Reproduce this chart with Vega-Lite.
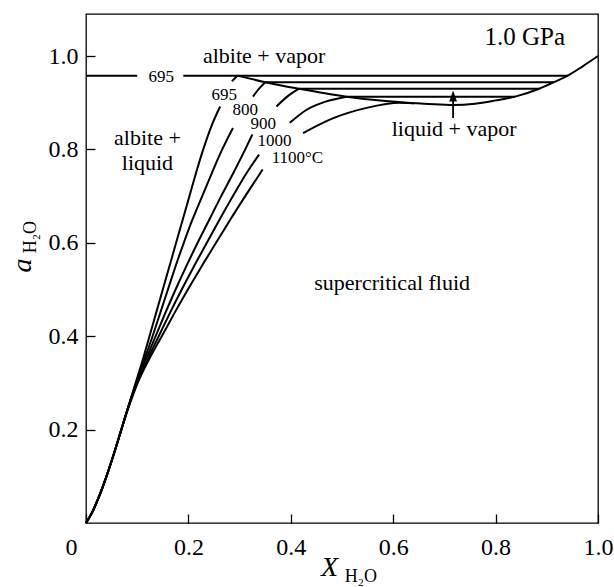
{
  "$schema": "https://vega.github.io/schema/vega-lite/v6.json",
  "width": 512,
  "height": 509,
  "autosize": {"type": "none"},
  "padding": {"left": 86, "top": 14, "right": 16, "bottom": 64},
  "background": "white",
  "config": {
    "view": {"stroke": "black", "strokeWidth": 1.3},
    "font": "Liberation Serif"
  },
  "datasets": {
    "curves": [
      {"seg": "695a", "x": 0, "y": 0}, {"seg": "695a", "x": 0.013, "y": 0.025}, {"seg": "695a", "x": 0.023, "y": 0.05}, {"seg": "695a", "x": 0.04, "y": 0.1}, {"seg": "695a", "x": 0.055, "y": 0.15}, {"seg": "695a", "x": 0.069, "y": 0.2}, {"seg": "695a", "x": 0.083, "y": 0.25}, {"seg": "695a", "x": 0.097, "y": 0.3}, {"seg": "695a", "x": 0.111, "y": 0.35}, {"seg": "695a", "x": 0.124, "y": 0.4}, {"seg": "695a", "x": 0.137, "y": 0.45}, {"seg": "695a", "x": 0.15, "y": 0.5}, {"seg": "695a", "x": 0.163, "y": 0.55}, {"seg": "695a", "x": 0.176, "y": 0.6}, {"seg": "695a", "x": 0.189, "y": 0.65}, {"seg": "695a", "x": 0.202, "y": 0.7}, {"seg": "695a", "x": 0.215, "y": 0.75}, {"seg": "695a", "x": 0.229, "y": 0.8}, {"seg": "695a", "x": 0.245, "y": 0.85}, {"seg": "695a", "x": 0.262, "y": 0.892},
      {"seg": "695b", "x": 0.285, "y": 0.946}, {"seg": "695b", "x": 0.296, "y": 0.958},
      {"seg": "800a", "x": 0, "y": 0}, {"seg": "800a", "x": 0.013, "y": 0.025}, {"seg": "800a", "x": 0.023, "y": 0.05}, {"seg": "800a", "x": 0.04, "y": 0.1}, {"seg": "800a", "x": 0.055, "y": 0.15}, {"seg": "800a", "x": 0.069, "y": 0.2}, {"seg": "800a", "x": 0.083, "y": 0.25}, {"seg": "800a", "x": 0.098, "y": 0.3}, {"seg": "800a", "x": 0.114, "y": 0.35}, {"seg": "800a", "x": 0.13, "y": 0.4}, {"seg": "800a", "x": 0.145, "y": 0.45}, {"seg": "800a", "x": 0.16, "y": 0.5}, {"seg": "800a", "x": 0.175, "y": 0.55}, {"seg": "800a", "x": 0.191, "y": 0.6}, {"seg": "800a", "x": 0.208, "y": 0.65}, {"seg": "800a", "x": 0.227, "y": 0.7}, {"seg": "800a", "x": 0.246, "y": 0.75}, {"seg": "800a", "x": 0.266, "y": 0.8}, {"seg": "800a", "x": 0.287, "y": 0.846},
      {"seg": "800b", "x": 0.326, "y": 0.913}, {"seg": "800b", "x": 0.338, "y": 0.93}, {"seg": "800b", "x": 0.35, "y": 0.944},
      {"seg": "900a", "x": 0, "y": 0}, {"seg": "900a", "x": 0.013, "y": 0.025}, {"seg": "900a", "x": 0.023, "y": 0.05}, {"seg": "900a", "x": 0.04, "y": 0.1}, {"seg": "900a", "x": 0.055, "y": 0.15}, {"seg": "900a", "x": 0.069, "y": 0.2}, {"seg": "900a", "x": 0.083, "y": 0.25}, {"seg": "900a", "x": 0.099, "y": 0.3}, {"seg": "900a", "x": 0.117, "y": 0.35}, {"seg": "900a", "x": 0.136, "y": 0.4}, {"seg": "900a", "x": 0.155, "y": 0.45}, {"seg": "900a", "x": 0.175, "y": 0.5}, {"seg": "900a", "x": 0.196, "y": 0.55}, {"seg": "900a", "x": 0.218, "y": 0.6}, {"seg": "900a", "x": 0.241, "y": 0.65}, {"seg": "900a", "x": 0.264, "y": 0.7}, {"seg": "900a", "x": 0.288, "y": 0.75}, {"seg": "900a", "x": 0.311, "y": 0.8}, {"seg": "900a", "x": 0.325, "y": 0.832},
      {"seg": "900b", "x": 0.372, "y": 0.892}, {"seg": "900b", "x": 0.393, "y": 0.913}, {"seg": "900b", "x": 0.416, "y": 0.93},
      {"seg": "1000a", "x": 0, "y": 0}, {"seg": "1000a", "x": 0.013, "y": 0.025}, {"seg": "1000a", "x": 0.023, "y": 0.05}, {"seg": "1000a", "x": 0.04, "y": 0.1}, {"seg": "1000a", "x": 0.055, "y": 0.15}, {"seg": "1000a", "x": 0.069, "y": 0.2}, {"seg": "1000a", "x": 0.083, "y": 0.25}, {"seg": "1000a", "x": 0.1, "y": 0.3}, {"seg": "1000a", "x": 0.12, "y": 0.35}, {"seg": "1000a", "x": 0.142, "y": 0.4}, {"seg": "1000a", "x": 0.164, "y": 0.45}, {"seg": "1000a", "x": 0.187, "y": 0.5}, {"seg": "1000a", "x": 0.211, "y": 0.55}, {"seg": "1000a", "x": 0.236, "y": 0.6}, {"seg": "1000a", "x": 0.261, "y": 0.65}, {"seg": "1000a", "x": 0.287, "y": 0.7}, {"seg": "1000a", "x": 0.314, "y": 0.75}, {"seg": "1000a", "x": 0.338, "y": 0.789},
      {"seg": "1000b", "x": 0.398, "y": 0.857}, {"seg": "1000b", "x": 0.431, "y": 0.885}, {"seg": "1000b", "x": 0.47, "y": 0.903}, {"seg": "1000b", "x": 0.509, "y": 0.913},
      {"seg": "1100a", "x": 0, "y": 0}, {"seg": "1100a", "x": 0.013, "y": 0.025}, {"seg": "1100a", "x": 0.023, "y": 0.05}, {"seg": "1100a", "x": 0.04, "y": 0.1}, {"seg": "1100a", "x": 0.055, "y": 0.15}, {"seg": "1100a", "x": 0.069, "y": 0.2}, {"seg": "1100a", "x": 0.084, "y": 0.25}, {"seg": "1100a", "x": 0.101, "y": 0.3}, {"seg": "1100a", "x": 0.123, "y": 0.35}, {"seg": "1100a", "x": 0.148, "y": 0.4}, {"seg": "1100a", "x": 0.173, "y": 0.45}, {"seg": "1100a", "x": 0.199, "y": 0.5}, {"seg": "1100a", "x": 0.226, "y": 0.55}, {"seg": "1100a", "x": 0.254, "y": 0.6}, {"seg": "1100a", "x": 0.282, "y": 0.65}, {"seg": "1100a", "x": 0.311, "y": 0.7}, {"seg": "1100a", "x": 0.345, "y": 0.757},
      {"seg": "1100b", "x": 0.424, "y": 0.835}, {"seg": "1100b", "x": 0.483, "y": 0.867}, {"seg": "1100b", "x": 0.548, "y": 0.889}, {"seg": "1100b", "x": 0.613, "y": 0.9}, {"seg": "1100b", "x": 0.66, "y": 0.898}, {"seg": "1100b", "x": 0.717, "y": 0.895}, {"seg": "1100b", "x": 0.76, "y": 0.898}, {"seg": "1100b", "x": 0.8, "y": 0.905}, {"seg": "1100b", "x": 0.838, "y": 0.913}, {"seg": "1100b", "x": 0.885, "y": 0.93}, {"seg": "1100b", "x": 0.914, "y": 0.944}, {"seg": "1100b", "x": 0.941, "y": 0.958}, {"seg": "1100b", "x": 0.97, "y": 0.978}, {"seg": "1100b", "x": 1.0, "y": 1.0},
      {"seg": "boundary", "x": 0.296, "y": 0.958}, {"seg": "boundary", "x": 0.35, "y": 0.944}, {"seg": "boundary", "x": 0.416, "y": 0.93}, {"seg": "boundary", "x": 0.509, "y": 0.913}, {"seg": "boundary", "x": 0.58, "y": 0.904}, {"seg": "boundary", "x": 0.64, "y": 0.899},
      {"seg": "tie695a", "x": 0, "y": 0.958}, {"seg": "tie695a", "x": 0.1, "y": 0.958},
      {"seg": "tie695b", "x": 0.19, "y": 0.958}, {"seg": "tie695b", "x": 0.941, "y": 0.958},
      {"seg": "tie800", "x": 0.35, "y": 0.944}, {"seg": "tie800", "x": 0.914, "y": 0.944},
      {"seg": "tie900", "x": 0.416, "y": 0.93}, {"seg": "tie900", "x": 0.885, "y": 0.93},
      {"seg": "tie1000", "x": 0.509, "y": 0.913}, {"seg": "tie1000", "x": 0.838, "y": 0.913}
    ],
    "arrow": [{"x": 0.717, "y": 0.867, "y2": 0.912}],
    "arrowhead": [{"x": 0.717, "y": 0.9146}],
    "regions": [
      {"label": "albite + vapor", "x": 0.348, "y": 0.986},
      {"label": "albite +", "x": 0.12, "y": 0.81},
      {"label": "liquid", "x": 0.12, "y": 0.757},
      {"label": "liquid + vapor", "x": 0.719, "y": 0.828},
      {"label": "supercritical fluid", "x": 0.598, "y": 0.5}
    ],
    "temps": [
      {"label": "695", "x": 0.147, "y": 0.945},
      {"label": "695", "x": 0.27, "y": 0.906},
      {"label": "800", "x": 0.311, "y": 0.874},
      {"label": "900", "x": 0.346, "y": 0.843},
      {"label": "1000", "x": 0.368, "y": 0.807},
      {"label": "1100°C", "x": 0.413, "y": 0.77}
    ],
    "pressure": [{"label": "1.0 GPa", "x": 0.857, "y": 1.024}],
    "xsub": [{"label": "H₂O", "x": 0.537, "y": -0.126}],
    "ysub": [{"label": "H₂O", "x": -0.098, "y": 0.612}]
  },
  "encoding": {
    "x": {
      "field": "x", "type": "quantitative",
      "scale": {"domain": [0, 1], "nice": false, "zero": false},
      "axis": {
        "values": [0, 0.2, 0.4, 0.6, 0.8, 1.0],
        "labelExpr": "datum.value == 0 ? '0' : format(datum.value, '.1f')",
        "labelFont": "Liberation Serif", "labelFontSize": 24, "labelColor": "black",
        "labelFlush": false, "labelOverlap": false,
        "labelOffset": {"condition": {"test": "datum.value == 0", "value": -15}, "value": 0},
        "tickSize": -9, "tickColor": "black", "tickWidth": 1.3, "labelPadding": 21,
        "domain": false, "grid": false,
        "title": "X", "titleFont": "Liberation Serif", "titleFontStyle": "italic", "titleFontWeight": "normal",
        "titleFontSize": 28, "titleColor": "black", "titleX": 243, "titleY": 52,
        "titleBaseline": "alphabetic", "titleAlign": "center"
      }
    },
    "y": {
      "field": "y", "type": "quantitative",
      "scale": {"domain": [0, 1.09], "nice": false, "zero": false},
      "axis": {
        "values": [0.2, 0.4, 0.6, 0.8, 1.0],
        "format": ".1f",
        "labelFont": "Liberation Serif", "labelFontSize": 24, "labelColor": "black",
        "labelFlush": false, "labelOverlap": false,
        "tickSize": -9, "tickColor": "black", "tickWidth": 1.3, "labelPadding": 17,
        "domain": false, "grid": false,
        "title": "a", "titleFont": "Liberation Serif", "titleFontStyle": "italic", "titleFontWeight": "normal",
        "titleFontSize": 28, "titleColor": "black", "titleAngle": 270, "titleX": -56, "titleY": 251,
        "titleBaseline": "alphabetic", "titleAlign": "center"
      }
    }
  },
  "layer": [
    {
      "data": {"name": "curves"},
      "mark": {"type": "line", "color": "black", "strokeWidth": 2, "interpolate": "monotone"},
      "encoding": {"detail": {"field": "seg", "type": "nominal"}}
    },
    {
      "data": {"name": "arrow"},
      "mark": {"type": "rule", "color": "black", "strokeWidth": 1.8},
      "encoding": {"y2": {"field": "y2"}}
    },
    {
      "data": {"name": "arrowhead"},
      "mark": {"type": "point", "shape": "M0,-1L-0.7,1L0.7,1Z", "size": 121, "filled": true, "color": "black", "opacity": 1, "strokeWidth": 0}
    },
    {
      "data": {"name": "regions"},
      "mark": {"type": "text", "font": "Liberation Serif", "fontSize": 22, "color": "black", "align": "center", "baseline": "alphabetic"},
      "encoding": {"text": {"field": "label"}}
    },
    {
      "data": {"name": "temps"},
      "mark": {"type": "text", "font": "Liberation Serif", "fontSize": 17, "color": "black", "align": "center", "baseline": "alphabetic"},
      "encoding": {"text": {"field": "label"}}
    },
    {
      "data": {"name": "pressure"},
      "mark": {"type": "text", "font": "Liberation Serif", "fontSize": 25, "color": "black", "align": "center", "baseline": "alphabetic"},
      "encoding": {"text": {"field": "label"}}
    },
    {
      "data": {"name": "xsub"},
      "mark": {"type": "text", "font": "Liberation Serif", "fontSize": 18, "color": "black", "align": "center", "baseline": "alphabetic"},
      "encoding": {"text": {"field": "label"}}
    },
    {
      "data": {"name": "ysub"},
      "mark": {"type": "text", "font": "Liberation Serif", "fontSize": 18, "color": "black", "align": "center", "baseline": "alphabetic", "angle": 270},
      "encoding": {"text": {"field": "label"}}
    }
  ]
}
